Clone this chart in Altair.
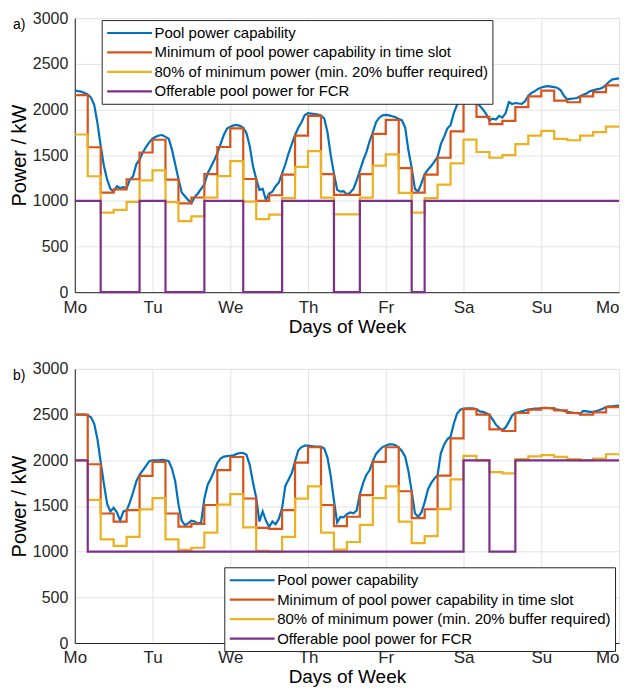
import pandas as pd
import altair as alt

day_labels = ["Mo", "Tu", "We", "Th", "Fr", "Sa", "Su", "Mo"]
series_names = [
    "Pool power capability",
    "Minimum of pool power capability in time slot",
    "80% of minimum power (min. 20% buffer required)",
    "Offerable pool power for FCR",
]
series_colors = ["#0072BD", "#D95319", "#EDB120", "#7E2F8E"]

# hourly samples of the pool capability, Mo 00:00 .. next Mo 00:00
hours = list(range(169))
# 4 hour time slots (42 per week), last edge repeated at 168
slot_edges = list(range(0, 169, 4))

# ---- panel a)
blue_a = [2207, 2200, 2195, 2180, 2165, 2130, 2050, 1850, 1600, 1380, 1230, 1130, 1100,
          1160, 1140, 1150, 1140, 1230, 1270, 1400, 1450, 1530, 1590, 1640, 1680,
          1700, 1715, 1720, 1700, 1680, 1560, 1400, 1240, 1090, 1050, 1010, 975,
          1040, 1080, 1130, 1180, 1300, 1370, 1440, 1520, 1620, 1720, 1790, 1810,
          1825, 1830, 1820, 1800, 1740, 1600, 1380, 1240, 1120, 1130, 1010, 1080,
          1100, 1160, 1200, 1300, 1400, 1520, 1620, 1720, 1800, 1860, 1940, 1960,
          1955, 1950, 1945, 1935, 1900, 1750, 1500, 1300, 1120, 1100, 1105, 1070,
          1090, 1130, 1220, 1330, 1440, 1530, 1650, 1750, 1860, 1910, 1935, 1940,
          1935, 1925, 1915, 1895, 1880, 1800, 1550, 1360, 1130, 1100, 1190, 1290,
          1340, 1380, 1430, 1480, 1620, 1700, 1790, 1830, 1960, 2050, 2090, 2100,
          2105, 2100, 2095, 2080, 2040, 2000, 1950, 1880, 1900, 1890, 1930, 1910,
          1960, 2080, 2060, 2070, 2065, 2060, 2090, 2150, 2180, 2200, 2225, 2240,
          2250, 2255, 2250, 2245, 2235, 2210, 2150, 2110, 2115, 2120, 2125, 2145,
          2160, 2175, 2200, 2210, 2220, 2225, 2240, 2270, 2305, 2330, 2335, 2340]
red_a = [2157, 1586, 1089, 1125, 1236, 1529, 1668, 1232, 971, 1036, 1293, 1589, 1793, 1239,
         1000, 1061, 1286, 1714, 1929, 1293, 1064, 1064, 1293, 1732, 1886, 1357, 1089, 1286,
         1471, 1761, 2086, 1918, 1839, 1875, 2025, 2143, 2207, 2096, 2079, 2143, 2189, 2264]
yellow_a = [1726, 1269, 871, 900, 989, 1223, 1334, 986, 777, 829, 1034, 1271, 1434, 991,
            800, 849, 1029, 1371, 1543, 1034, 851, 851, 1034, 1386, 1509, 1086, 871, 1029,
            1177, 1409, 1669, 1534, 1471, 1500, 1620, 1714, 1766, 1677, 1663, 1714, 1751, 1811]
purple_a = [1000, 1000, 0, 0, 0, 1000, 1000, 0, 0, 0, 1000, 1000, 1000, 0,
            0, 0, 1000, 1000, 1000, 1000, 0, 0, 1000, 1000, 1000, 1000, 0, 1000,
            1000, 1000, 1000, 1000, 1000, 1000, 1000, 1000, 1000, 1000, 1000, 1000, 1000, 1000]

# ---- panel b)
blue_b = [2500, 2500, 2500, 2500, 2490, 2470, 2400, 2230, 1980, 1740, 1520, 1440, 1480,
          1430, 1340, 1440, 1450, 1540, 1650, 1770, 1840, 1890, 1940, 1990, 2000,
          2000, 2000, 2005, 2000, 1990, 1910, 1770, 1520, 1340, 1290, 1310, 1340,
          1330, 1310, 1320, 1580, 1730, 1800, 1880, 1970, 2020, 2040, 2045, 2050,
          2055, 2070, 2080, 2080, 2060, 1950, 1760, 1590, 1330, 1440, 1340, 1270,
          1330, 1300, 1360, 1480, 1720, 1790, 1860, 1990, 2110, 2145, 2160, 2160,
          2155, 2150, 2150, 2150, 2130, 2030, 1830, 1560, 1320, 1380, 1375, 1410,
          1430, 1420, 1450, 1630, 1750, 1840, 1890, 1990, 2070, 2110, 2145, 2160,
          2175, 2175, 2165, 2140, 2100, 2040, 1880, 1660, 1420, 1380, 1430, 1540,
          1680, 1750, 1800, 1840, 2080, 2170, 2230, 2260, 2400, 2510, 2555, 2565,
          2570, 2570, 2570, 2560, 2535, 2530, 2515, 2500, 2445, 2390, 2355, 2330,
          2360, 2420, 2490, 2520, 2525, 2535, 2545, 2555, 2560, 2565, 2565, 2572,
          2575, 2575, 2570, 2560, 2555, 2550, 2540, 2530, 2525, 2520, 2515, 2510,
          2540, 2535, 2530, 2530, 2540, 2550, 2565, 2585, 2590, 2590, 2595, 2600]
red_b = [2500, 1957, 1418, 1329, 1454, 1829, 1982, 1418, 1275, 1304, 1511, 1893, 2036, 1582,
         1261, 1250, 1454, 1975, 2143, 1511, 1279, 1382, 1618, 1982, 2143, 1661, 1368, 1464,
         1832, 2239, 2561, 2500, 2339, 2321, 2518, 2554, 2571, 2546, 2518, 2500, 2525, 2582]
yellow_b = [2000, 1566, 1134, 1063, 1163, 1463, 1586, 1134, 1020, 1043, 1209, 1514, 1629, 1266,
            1009, 1000, 1163, 1580, 1714, 1209, 1023, 1106, 1294, 1586, 1714, 1329, 1094, 1171,
            1466, 1791, 2049, 2000, 1871, 1857, 2014, 2043, 2057, 2037, 2014, 2000, 2020, 2066]
purple_b = [2000, 1000, 1000, 1000, 1000, 1000, 1000, 1000, 1000, 1000, 1000, 1000, 1000, 1000,
            1000, 1000, 1000, 1000, 1000, 1000, 1000, 1000, 1000, 1000, 1000, 1000, 1000, 1000,
            1000, 1000, 2000, 2000, 1000, 1000, 2000, 2000, 2000, 2000, 2000, 2000, 2000, 2000]


def make_df(blue, red, yellow, purple):
    parts = [pd.DataFrame({"hour": hours, "power": blue, "series": series_names[0]})]
    for name, vals in zip(series_names[1:], [red, yellow, purple]):
        # repeat the last slot value so the step reaches the right edge
        parts.append(pd.DataFrame({"hour": slot_edges, "power": vals + [vals[-1]], "series": name}))
    return pd.concat(parts, ignore_index=True)


label_expr = "[" + ",".join("'%s'" % d for d in day_labels) + "][datum.value / 24]"


def panel(df, tag, leg_x, leg_y):
    x = alt.X("hour:Q", title="Days of Week",
              scale=alt.Scale(domain=[0, 168], nice=False),
              axis=alt.Axis(values=list(range(0, 169, 24)), labelExpr=label_expr,
                            labelFlush=False,
                            labelAlign=alt.expr("datum.value >= 168 ? 'right' : 'center'")))
    y = alt.Y("power:Q", title="Power / kW",
              scale=alt.Scale(domain=[0, 3000], nice=False),
              axis=alt.Axis(values=list(range(0, 3001, 500)), format="d"))
    # wide flat line symbol: path spans 3x the symbol box so rows stay compact
    color = alt.Color("series:N", sort=series_names,
                      scale=alt.Scale(domain=series_names, range=series_colors),
                      legend=alt.Legend(title=None, orient="none", legendX=leg_x, legendY=leg_y,
                                        symbolType="M-3,0L3,0", symbolSize=225,
                                        symbolStrokeWidth=2.2, symbolOffset=15, labelOffset=16,
                                        labelFontSize=15, labelLimit=500, rowPadding=2.5,
                                        padding=4, strokeColor="#262626", fillColor="white",
                                        labelColor="black", labelFont="Liberation Sans"))
    base = alt.Chart(df).encode(x=x, y=y, color=color)
    layers = [base.transform_filter(alt.datum.series == series_names[0]).mark_line(strokeWidth=2.2)]
    for name in series_names[1:]:
        layers.append(base.transform_filter(alt.datum.series == name)
                      .mark_line(strokeWidth=2.2, interpolate="step-after"))
    tag_text = alt.Chart(pd.DataFrame({"t": [tag]})).mark_text(
        align="left", baseline="middle", fontSize=14, font="Liberation Sans", color="black"
    ).encode(text="t:N", x=alt.value(-62), y=alt.value(7))
    return alt.layer(*layers, tag_text).properties(width=546, height=275)


top = panel(make_df(blue_a, red_a, yellow_a, purple_a), "a)", 27, 2)
bottom = panel(make_df(blue_b, red_b, yellow_b, purple_b), "b)", 150, 199)

chart = alt.vconcat(top, bottom, spacing=23).resolve_scale(color="independent") \
    .resolve_legend(color="independent") \
    .properties(padding=0).configure_axis(
        labelFont="Liberation Sans", titleFont="Liberation Sans",
        labelFontSize=16, titleFontSize=20, titleFontWeight="normal",
        labelColor="#262626", titleColor="black", domainColor="#262626",
        gridColor="#e3e3e3", ticks=False, labelPadding=7, titlePadding=3
    ).configure_axisX(labelFontSize=17, labelPadding=7, titlePadding=2, titleFontSize=19) \
    .configure_view(stroke="#e3e3e3")

chart.save("out.html", embed_options={"renderer": "svg", "actions": False})
